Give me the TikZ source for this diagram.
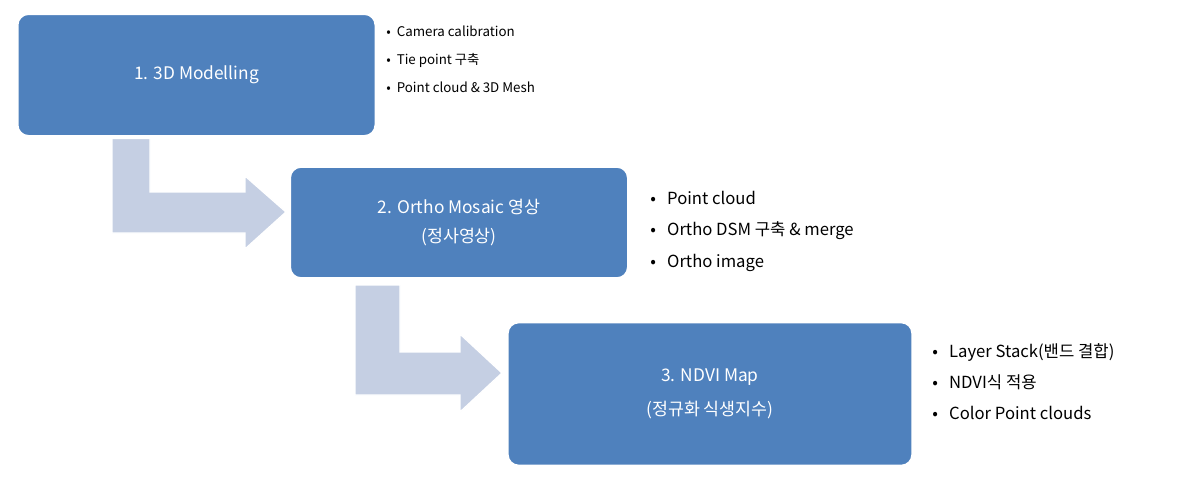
\documentclass[tikz,border=0pt]{standalone}
\usepackage{fontspec}
\setmainfont{Noto Sans CJK KR}
\definecolor{boxblue}{HTML}{4F81BD}
\definecolor{arrowgray}{HTML}{C5CFE3}
\tikzset{
  stagebox/.style={draw=white, line width=3pt, fill=boxblue, rounded corners=9pt,
    text=white, font=\fontsize{13}{16}\selectfont, align=center, inner sep=0pt,
    drop shadow={shadow xshift=0.6pt, shadow yshift=-0.6pt, opacity=0.35}},
  bendarrow/.style={fill=arrowgray, draw=white, line width=1pt},
  itemlist/.style={anchor=north west, align=left, inner sep=0pt}
}
\usetikzlibrary{shadows}
\begin{document}
\begin{tikzpicture}[x=0.75pt, y=-0.75pt]
  \useasboundingbox (0,0) rectangle (1202,486);

  % bent arrows
  \draw[bendarrow] (112,138) -- (150,138) -- (150,192) -- (245,192) -- (245,176)
    -- (286,212) -- (245,249) -- (245,233) -- (112,233) -- cycle;
  \draw[bendarrow] (355,285) -- (400,285) -- (400,352) -- (460,352) -- (460,334)
    -- (502,373) -- (460,412) -- (460,395) -- (355,395) -- cycle;

  % stages
  \node[stagebox, minimum width=270pt, minimum height=93pt] (model) at (196.5,75)
    {1. 3D Modelling};
  \node[stagebox, minimum width=255pt, minimum height=85pt] (ortho) at (459,222.5)
    {2. Ortho Mosaic 영상\\[6pt](정사영상)};
  \node[stagebox, minimum width=305pt, minimum height=109pt] (ndvi) at (710,394)
    {3. NDVI Map\\[10pt](정규화 식생지수)};

  % item lists
  \node[itemlist, font=\fontsize{10}{21}\selectfont] (modelitems) at (386,26)
    {•\ \ Camera calibration\\•\ \ Tie point 구축\\•\ \ Point cloud \& 3D Mesh};
  \node[itemlist, font=\fontsize{12.5}{23.5}\selectfont] (orthoitems) at (650,191)
    {•\ \ \ Point cloud\\•\ \ \ Ortho DSM 구축 \& merge\\•\ \ \ Ortho image};
  \node[itemlist, font=\fontsize{12.5}{23.5}\selectfont] (ndviitems) at (932,343)
    {•\ \ \ Layer Stack(밴드 결합)\\•\ \ \ NDVI식 적용\\•\ \ \ Color Point clouds};
\end{tikzpicture}
\end{document}
